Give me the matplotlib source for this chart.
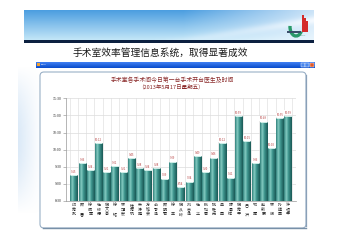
import numpy as np
import matplotlib
matplotlib.use("Agg")
import matplotlib.pyplot as plt
from matplotlib.patches import FancyBboxPatch, Rectangle, Arc
from matplotlib.colors import LinearSegmentedColormap

plt.rcParams['font.family'] = ['Noto Sans CJK SC', 'DejaVu Sans']

# ---------------- data ----------------
slide_title = "手术室效率管理信息系统，取得显著成效"
chart_title = "手术室各手术间今日第一台手术开台医生及时间"
chart_subtitle = "（2013年5月17日星期五）"
doctors = ["印秀武", "顾　雷", "徐娥军", "杜修德", "倪文亭", "徐　镭", "林冠宏",
           "桂秀机", "朱涤超", "方铭会", "俞承泽", "顾明君", "徐　丰", "倪从岭",
           "刘吉泽", "杜　华", "张如葛", "姚胜光", "卓　园", "陈景祥", "倪秀平",
           "吕　洪", "祁　晖", "赵新豪", "林　毅", "孙旗国", "许祖平"]
start_times = ["9:15", "9:36", "9:24", "10:12", "9:21", "9:31", "9:21",
               "9:45", "9:28", "9:24", "9:28", "9:09", "9:39", "8:54",
               "9:04", "9:49", "9:20", "9:46", "10:12", "9:11", "10:59",
               "10:15", "9:36", "10:49", "10:03", "10:55", "10:59"]
y_ticks = ["8:30", "9:00", "9:30", "10:00", "10:30", "11:00", "11:30"]


def to_min(s):
    h, m = s.split(":")
    return int(h) * 60 + int(m)


vals = np.array([to_min(s) for s in start_times])
ytick_vals = [to_min(s) for s in y_ticks]

W, H = 339, 240
fig = plt.figure(figsize=(W / 100, H / 100), dpi=100)
fig.patch.set_facecolor("white")

# ---------------- slide background ----------------
bg = fig.add_axes([0, 0, 1, 1])
bg.axis("off")

# left haze
haze = np.zeros((60, 30, 4))
hx = np.linspace(1, 0, 30)[None, :]
hy = np.sin(np.linspace(0, np.pi, 60))[:, None]
haze[..., 0] = 0.80
haze[..., 1] = 0.88
haze[..., 2] = 0.96
haze[..., 3] = 0.7 * hx * hy
bg.imshow(haze, extent=[18, 42, 215, 65], aspect="auto", interpolation="bilinear")

# banner gradient: vertical blue -> light, fading to pale on the right
bw, bh = 290, 30
xx = np.linspace(0, 1, bw)[None, :]
yy = np.linspace(0, 1, bh)[:, None]
top = np.array([0.30, 0.62, 0.88])
bot = np.array([0.76, 0.90, 0.97])
banner = top[None, None, :] * (1 - yy[..., None]) + bot[None, None, :] * yy[..., None]
banner = np.repeat(banner, bw, axis=1)
g = np.clip((xx - 0.55) / 0.45, 0, 1) * 0.75
g = g + 0.25 * np.exp(-((yy - (1.3 - 1.6 * (xx - 0.4))) ** 2) / 0.02) * (xx > 0.45)
g = np.clip(g, 0, 1)
pale = np.array([0.96, 0.98, 1.0])
banner = banner * (1 - g[..., None]) + pale[None, None, :] * g[..., None]
bg.imshow(np.clip(banner, 0, 1), extent=[24, 314, 40.5, 11.2], aspect="auto",
          interpolation="bilinear")
bg.add_patch(Rectangle((24, 40.4), 290, 2.4, color="#0c2040", lw=0))

# logo
bg.add_patch(Arc((296, 27), 12, 18, theta1=40, theta2=190, color="#2a9a6a", lw=2.4))
for bx, t in [(302.2, 15), (304.3, 18), (306.4, 21)]:
    bg.add_patch(Rectangle((bx, t), 1.3, 32 - t, color="#d42a2a", lw=0))
bg.add_patch(Rectangle((287, 30.5), 14, 2.0, color="#3a4f6a", lw=0))
bg.text(299, 35, "XI'AN HOSPITAL", fontsize=1.2, color="#2a8a6a", ha="center", va="center")

# slide title
bg.text(160.5, 53, slide_title, fontsize=7, color="#1a1a1a", ha="center", va="center")

# window title bar
tb = np.linspace(0, 1, 12)[:, None]
tcol = np.array([0.25, 0.50, 0.95])[None, None, :] * (1 - tb[..., None]) + \
       np.array([0.04, 0.30, 0.80])[None, None, :] * tb[..., None]
tcol = np.repeat(tcol, 4, axis=1)
bg.imshow(tcol, extent=[36, 315, 67.7, 61.7], aspect="auto", interpolation="bilinear")
bg.add_patch(Rectangle((37, 62.8), 2.6, 3.6, color="#f0a030", lw=0))
bg.text(40.5, 64.7, "Flash", fontsize=1.6, color="white", va="center")
for bx, c in [(300.5, "#4a86ec"), (305.0, "#4a86ec"), (309.5, "#e05a2a")]:
    bg.add_patch(Rectangle((bx, 62.5), 4, 4.5, facecolor=c, edgecolor="white", lw=0.3))

# chart panel
bg.add_patch(FancyBboxPatch((40, 72), 266, 156, boxstyle="round,pad=0,rounding_size=4",
                            facecolor="white", edgecolor="#9ab0c6", lw=0.8))
bg.plot([43, 305.5], [228.4, 228.4], color="#7890a8", lw=1.0)
bg.plot([306.4, 306.4], [75, 226], color="#8aa0b8", lw=0.9)

bg.text(172, 80, chart_title, fontsize=4.2, color="#8b2a2a", ha="center", va="center")
bg.text(171, 86.3, chart_subtitle, fontsize=4.0, color="#8b2a2a", ha="center", va="center")

bg.set_xlim(0, W)
bg.set_ylim(H, 0)

# ---------------- chart ----------------
ax = fig.add_axes([66 / W, 1 - 201 / H, 230 / W, (201 - 98.3) / H])
ax.set_facecolor("none")
x = np.arange(len(vals))
ymin, ymax = ytick_vals[0], ytick_vals[-1]
bars = ax.bar(x, vals - ymin, bottom=ymin, width=0.86, color="#3a8d87", zorder=2)

cyl = LinearSegmentedColormap.from_list(
    "cyl", [(0, "#2f7f7a"), (0.3, "#86cdc3"), (0.55, "#3f968f"), (1, "#1a5855")])
grad = np.linspace(0, 1, 64).reshape(1, -1)
for b in bars:
    bx0, by0, bw_, bh_ = b.get_x(), b.get_y(), b.get_width(), b.get_height()
    im = ax.imshow(grad, cmap=cyl, extent=[bx0, bx0 + bw_, by0, by0 + bh_],
                   aspect="auto", origin="lower", zorder=3, interpolation="bilinear")
    im.set_clip_path(b)
    ax.plot([bx0, bx0 + bw_], [by0 + bh_, by0 + bh_], color="#d0efe9", lw=0.7, zorder=4,
            solid_capstyle="butt")

for xi, v, s in zip(x, vals, start_times):
    ax.text(xi, v + 2.2, s, ha="center", va="bottom", fontsize=2.0, color="#b54040",
            zorder=5, bbox=dict(boxstyle="square,pad=0.15", fc="white", ec="none"))

ax.set_xlim(-0.95, len(vals) - 0.03)
ax.set_ylim(ymin, ymax)
ax.set_yticks(ytick_vals)
ax.set_yticklabels(y_ticks, fontsize=2.6, color="#333333")
ax.set_xticks(x)
ax.set_xticklabels(["\n".join(n) for n in doctors], fontsize=2.9, color="#222222",
                   linespacing=1.2, va="top")
ax.set_xticks(np.arange(-0.5, len(vals), 1), minor=True)
ax.tick_params(axis="x", which="both", length=0, pad=1.5)
ax.tick_params(axis="y", length=2, width=0.4, color="#888888", pad=1.2)
ax.yaxis.grid(True, color="#dcdcdc", lw=0.5, zorder=0)
ax.xaxis.grid(True, which="minor", color="#e2e2e2", lw=0.5, zorder=0)
ax.set_axisbelow(True)
for sp in ["top", "right"]:
    ax.spines[sp].set_visible(False)
for sp in ["left", "bottom"]:
    ax.spines[sp].set_color("#999999")
    ax.spines[sp].set_linewidth(0.5)

fig.savefig("out.png", dpi=100)
